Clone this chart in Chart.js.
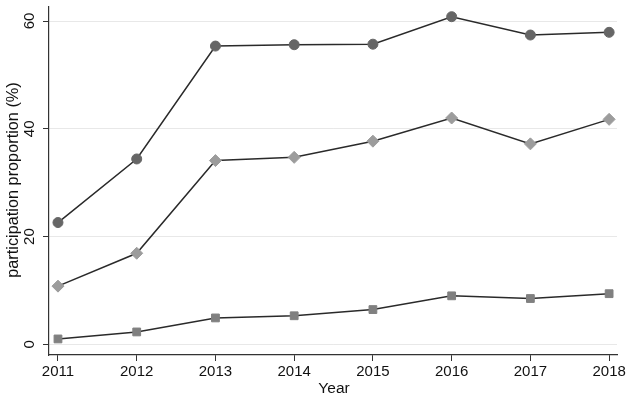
<!DOCTYPE html>
<html>
<head>
<meta charset="utf-8">
<script src="https://cdn.jsdelivr.net/npm/chart.js@4/dist/chart.umd.min.js"></script>
<style>
  html, body { margin: 0; padding: 0; background: #fff; }
  #wrap { width: 629px; height: 401px; }
</style>
</head>
<body>
<div id="wrap"><canvas id="grafica"></canvas></div>
<script>
// datos
var years = [2011, 2012, 2013, 2014, 2015, 2016, 2017, 2018];
var circulos = [22.6, 34.4, 55.35, 55.6, 55.7, 60.8, 57.4, 57.9];
var rombos = [10.8, 16.9, 34.1, 34.7, 37.7, 42.0, 37.2, 41.75];
var cuadrados = [1.0, 2.3, 4.9, 5.3, 6.45, 9.0, 8.5, 9.4];
var yTicks = [0, 20, 40, 60];
var yTitle = 'participation proportion (%)';
var xTitle = 'Year';

function toPoints(values) {
    return years.map(function (yr, i) {
        return { x: yr, y: values[i] };
    });
}

// textos dibujados a mano (etiquetas rotadas del eje y y titulos)
var textosPlugin = {
    id: 'textos',
    afterDraw: function (chart) {
        var ctx = chart.ctx;
        var sy = chart.scales.y;
        var sx = chart.scales.x;
        ctx.save();
        ctx.fillStyle = '#111';
        ctx.font = '15px "Liberation Sans", Arial, sans-serif';
        ctx.textAlign = 'center';
        ctx.textBaseline = 'middle';
        yTicks.forEach(function (v) {
            var py = sy.getPixelForValue(v);
            ctx.save();
            ctx.translate(30, py);
            ctx.rotate(-Math.PI / 2);
            ctx.fillText(String(v), 0, 0);
            ctx.restore();
        });
        years.forEach(function (yr) {
            ctx.fillText(String(yr), sx.getPixelForValue(yr), 372);
        });
        ctx.font = '15.5px "Liberation Sans", Arial, sans-serif';
        ctx.fillText(xTitle, 334, 389);
        ctx.font = '16.3px "Liberation Sans", Arial, sans-serif';
        ctx.save();
        ctx.translate(13.5, 180);
        ctx.rotate(-Math.PI / 2);
        ctx.fillText(yTitle, 0, 0);
        ctx.restore();
        ctx.restore();
    }
};

var lineColor = '#2a2a2a';

var chartData = {
    datasets: [{
        label: 'circulos',
        data: toPoints(circulos),
        borderColor: lineColor,
        borderWidth: 1.5,
        pointStyle: 'circle',
        pointRadius: 5,
        pointBackgroundColor: '#666666',
        pointBorderColor: '#666666',
        pointBorderWidth: 1
    }, {
        label: 'rombos',
        data: toPoints(rombos),
        borderColor: lineColor,
        borderWidth: 1.5,
        pointStyle: 'rectRot',
        pointRadius: 6,
        pointBackgroundColor: '#9c9c9c',
        pointBorderColor: '#9c9c9c',
        pointBorderWidth: 1
    }, {
        label: 'cuadrados',
        data: toPoints(cuadrados),
        borderColor: lineColor,
        borderWidth: 1.5,
        pointStyle: 'rect',
        pointRadius: 5.5,
        pointBackgroundColor: '#808080',
        pointBorderColor: '#808080',
        pointBorderWidth: 1
    }]
};

var chartOptions = {
    responsive: true,
    maintainAspectRatio: false,
    animation: false,
    clip: false,
    layout: { padding: { left: 0, right: 12, top: 5, bottom: 0 } },
    plugins: {
        legend: { display: false },
        tooltip: { enabled: false }
    },
    scales: {
        x: {
            type: 'linear',
            min: 2010.886,
            max: 2018.1,
            afterBuildTicks: function (scale) {
                scale.ticks = years.map(function (v) { return { value: v }; });
            },
            afterFit: function (scale) { scale.height = 46; },
            grid: {
                drawOnChartArea: false,
                drawTicks: true,
                tickLength: 6,
                tickColor: '#333',
                color: '#333'
            },
            border: { display: true, color: '#333', width: 1.2 },
            ticks: { display: false }
        },
        y: {
            min: -1.98,
            max: 62.6,
            afterBuildTicks: function (scale) {
                scale.ticks = yTicks.map(function (v) { return { value: v }; });
            },
            afterFit: function (scale) { scale.width = 49; },
            grid: {
                drawOnChartArea: true,
                drawTicks: true,
                tickLength: 6,
                color: '#e8e8e8',
                tickColor: '#333'
            },
            border: { display: true, color: '#333', width: 1.2 },
            ticks: { display: false }
        }
    }
};

var ctx = document.getElementById('grafica').getContext('2d');
var myChart = new Chart(ctx, {
    type: 'line',
    data: chartData,
    options: chartOptions,
    plugins: [textosPlugin]
});
</script>
</body>
</html>
